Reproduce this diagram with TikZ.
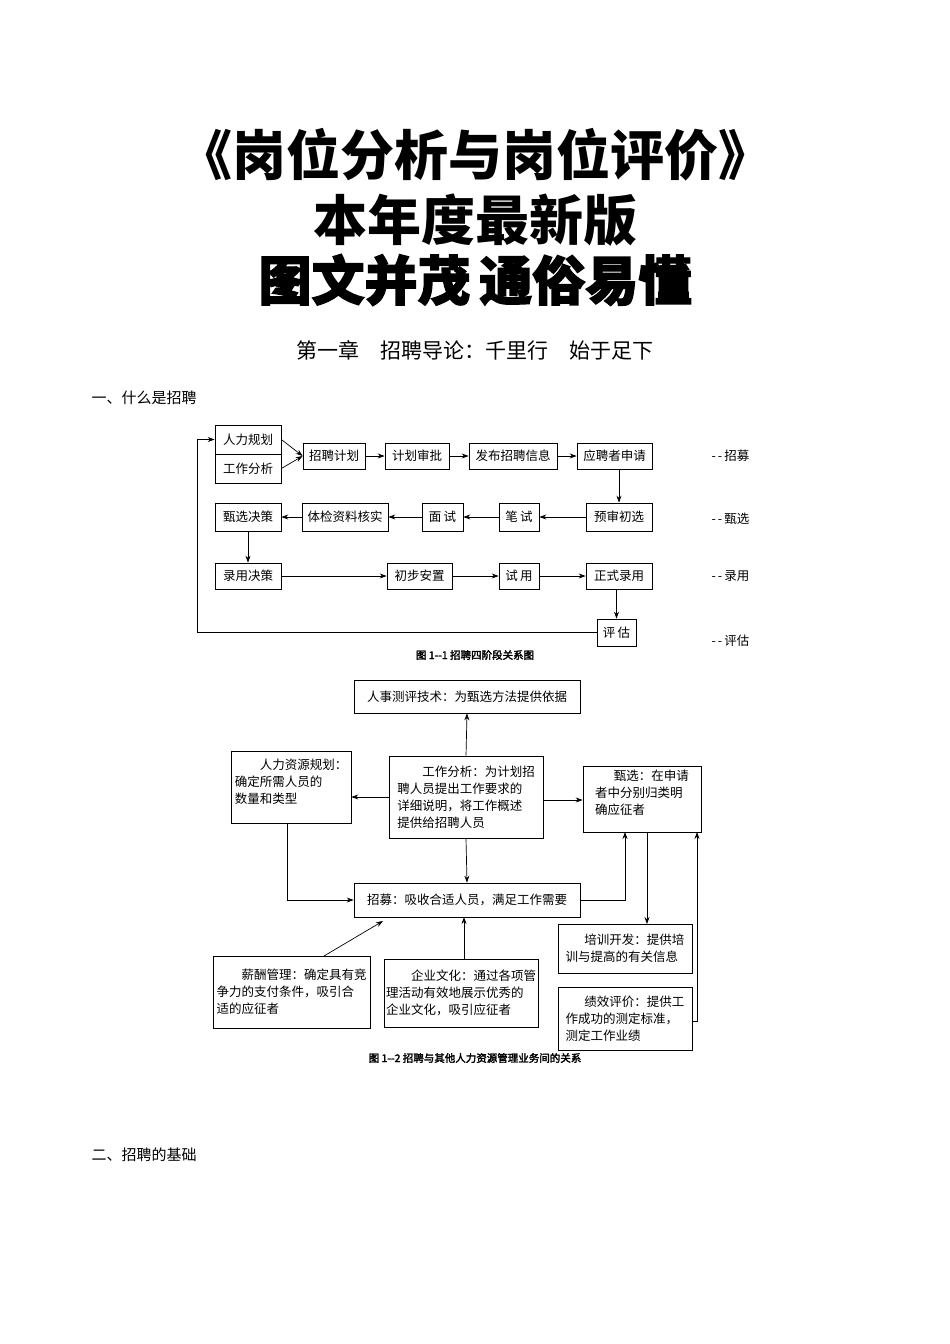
\documentclass[tikz,border=0pt]{standalone}
\usepackage{fontspec}
\setmainfont{Liberation Serif}
\newfontfamily\cjk{Noto Sans CJK SC}
\newfontfamily\cjkb{Noto Sans CJK SC}[FakeBold=2.5]
\usetikzlibrary{arrows.meta}
\begin{document}
\begin{tikzpicture}[x=1pt,y=-1pt,
  bx/.style={draw,line width=0.7pt,inner sep=0pt,font=\cjk\fontsize{12.5}{16}\selectfont},
  tb/.style={draw,line width=0.7pt,inner sep=0pt,align=left,font=\cjk\fontsize{12.5}{17}\selectfont},
  ar/.style={-{Stealth[length=7pt,width=5pt]},line width=0.7pt},
  lab/.style={font=\cjk\fontsize{12.5}{16}\selectfont,anchor=west}]
\useasboundingbox (0,0) rectangle (950,1344);
% titles
\node[font=\cjk\bfseries\fontsize{54}{58}\selectfont] (t1) at (475,155) {《岗位分析与岗位评价》};
\node[font=\cjk\bfseries\fontsize{54}{58}\selectfont] (t2) at (475,220) {本年度最新版};
\node[font=\cjkb\bfseries\fontsize{53}{58}\selectfont] (t3) at (475,280) {图文并茂\,通俗易懂};
\node[font=\cjk\fontsize{21}{24}\selectfont] (h1) at (475,350) {第一章\quad 招聘导论：千里行\quad 始于足下};
\node[font=\cjk\fontsize{15}{18}\selectfont,anchor=west] (s1) at (88,398) {一、什么是招聘};
\node[font=\cjk\fontsize{15}{18}\selectfont,anchor=west] (s2) at (88,1155) {二、招聘的基础};
% diagram 1
\node[bx,minimum width=66,minimum height=29] (hr) at (248,439.5) {人力规划};
\node[bx,minimum width=66,minimum height=29] (ja) at (248,468.5) {工作分析};
\node[bx,minimum width=62,minimum height=26] (plan) at (334,456) {招聘计划};
\node[bx,minimum width=64,minimum height=26] (appr) at (417,456) {计划审批};
\node[bx,minimum width=88,minimum height=26] (pub) at (513,456) {发布招聘信息};
\node[bx,minimum width=75,minimum height=26] (apply) at (614.5,456) {应聘者申请};
\node[bx,minimum width=66,minimum height=28] (dec) at (248,517) {甄选决策};
\node[bx,minimum width=86,minimum height=28] (exam) at (345,517) {体检资料核实};
\node[bx,minimum width=41,minimum height=28] (intv) at (442.5,517) {面\,试};
\node[bx,minimum width=40,minimum height=28] (wr) at (519,517) {笔\,试};
\node[bx,minimum width=66,minimum height=28] (scr) at (619,517) {预审初选};
\node[bx,minimum width=66,minimum height=26] (hire) at (248,576) {录用决策};
\node[bx,minimum width=65,minimum height=26] (place) at (419.5,576) {初步安置};
\node[bx,minimum width=40,minimum height=26] (trial) at (519,576) {试\,用};
\node[bx,minimum width=66,minimum height=26] (form) at (619,576) {正式录用};
\node[bx,minimum width=39,minimum height=27] (eval) at (616.5,632.5) {评\,估};
\node[lab] (l1) at (708,456) {-\,-\,招募};
\node[lab] (l2) at (708,519) {-\,-\,甄选};
\node[lab] (l3) at (708,576) {-\,-\,录用};
\node[lab] (l4) at (708,641) {-\,-\,评估};
\draw[ar] (hr.east) -- (plan.west);
\draw[ar] (ja.east) -- (plan.west);
\draw[ar] (plan) -- (appr);
\draw[ar] (appr) -- (pub);
\draw[ar] (pub) -- (apply);
\draw[ar] (apply.south -| scr) -- (scr);
\draw[ar] (scr) -- (wr);
\draw[ar] (wr) -- (intv);
\draw[ar] (intv) -- (exam);
\draw[ar] (exam) -- (dec);
\draw[ar] (dec) -- (hire);
\draw[ar] (hire) -- (place);
\draw[ar] (place) -- (trial);
\draw[ar] (trial) -- (form);
\draw[ar] (form.south -| eval) -- (eval);
\draw[ar] (eval.west) -- (197,632.5) |- (hr.west);
\node[font=\cjkb\fontsize{10.5}{12}\selectfont] (c1) at (475,655) {图 1--1 招聘四阶段关系图};
% diagram 2
\node[tb,minimum width=226,minimum height=33,align=center] (test) at (467,696.5) {人事测评技术：为甄选方法提供依据};
\node[tb,minimum width=120,minimum height=72] (hrp) at (291,787) {\hspace*{2em}人力资源规划：\\确定所需人员的\\数量和类型\\[-6pt]};
\node[tb,minimum width=154,minimum height=82] (ja2) at (466,797) {\hspace*{2em}工作分析：为计划招\\聘人员提出工作要求的\\详细说明，将工作概述\\提供给招聘人员};
\node[tb,minimum width=118,minimum height=66] (sel) at (642,799) {\hspace*{1.5em}甄选：在申请\\者中分别归类明\\确应征者\\[-4pt]};
\node[tb,minimum width=226,minimum height=34,align=center] (rec) at (467,900) {招募：吸收合适人员，满足工作需要};
\node[tb,minimum width=157,minimum height=72] (pay) at (291.5,992) {\hspace*{2em}薪酬管理：确定具有竞\\争力的支付条件，吸引合\\适的应征者};
\node[tb,minimum width=154,minimum height=68] (cul) at (461,993) {\hspace*{2em}企业文化：通过各项管\\理活动有效地展示优秀的\\企业文化，吸引应征者};
\node[tb,minimum width=134,minimum height=49] (train) at (625,948.5) {\hspace*{1.5em}培训开发：提供培\\训与提高的有关信息};
\node[tb,minimum width=134,minimum height=63] (perf) at (625,1018.5) {\hspace*{1.5em}绩效评价：提供工\\作成功的测定标准，\\测定工作业绩};
\draw[ar] (ja2.north) -- (test.south);
\draw[ar] (ja2.west |- 0,797) -- (hrp.east |- 0,797);
\draw[ar] (ja2.east |- 0,800) -- (sel.west |- 0,800);
\draw[ar] (ja2.south) -- (rec.north);
\draw[ar] (287,823) -- (287,900) -- (rec.west);
\draw[ar] (rec.east) -- (625,900) -- (625,832);
\draw[ar] (647,832) -- (647,924);
\draw[ar] (perf.east |- 0,1021) -- (697,1021) -- (697,832);
\draw[ar] (324,956) -- (383,921);
\draw[ar] (464,959) -- (464,917);
\node[font=\cjkb\fontsize{10.5}{12}\selectfont] (c2) at (475,1058) {图 1--2 招聘与其他人力资源管理业务间的关系};
\end{tikzpicture}
\end{document}
